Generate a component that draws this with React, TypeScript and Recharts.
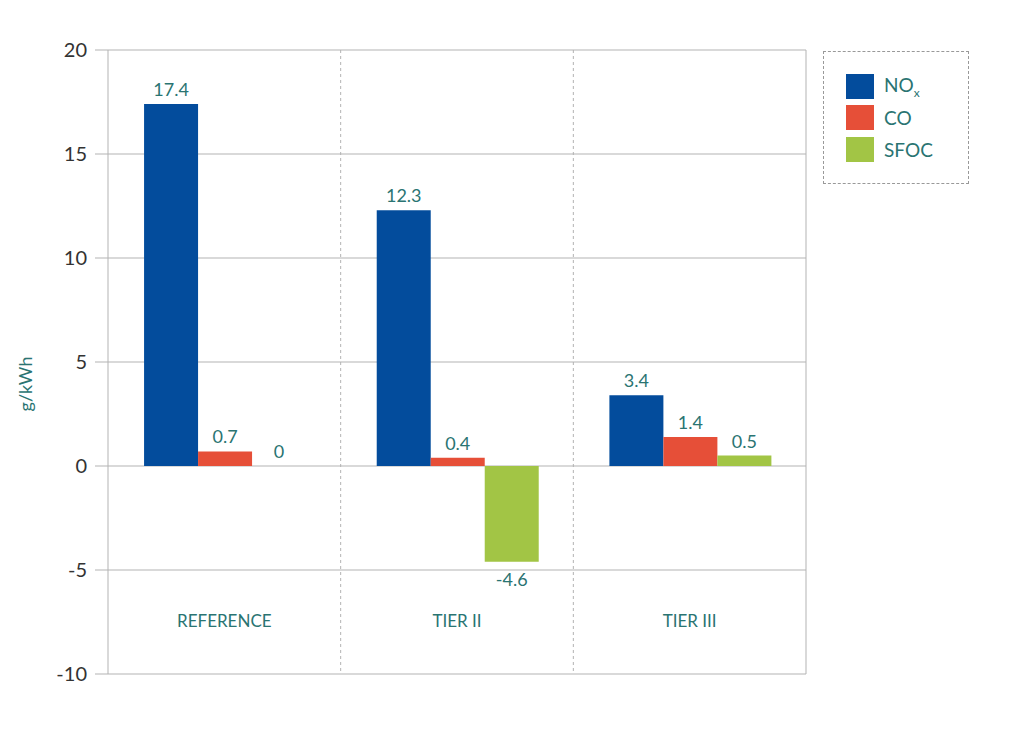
import React from "react";
import { BarChart, Bar, XAxis, YAxis, CartesianGrid, LabelList } from "recharts";

const categories = ["REFERENCE", "TIER II", "TIER III"];
const nox = [17.4, 12.3, 3.4];
const co = [0.7, 0.4, 1.4];
const sfoc = [0, -4.6, 0.5];
const yTicks = [-10, -5, 0, 5, 10, 15, 20];

const data = categories.map((name, i) => ({ name, nox: nox[i], co: co[i], sfoc: sfoc[i] }));

const TEAL = "#2a7472";
const GRID = "#b3b3b3";
const FONT = "Lato, 'Open Sans', sans-serif";

const ValueLabel = (props: any) => {
  const { x, y, width, height, value } = props;
  const top = Math.min(y, y + height);
  const bottom = Math.max(y, y + height);
  const ty = value < 0 ? bottom + 24 : top - 8;
  return (
    <text x={x + width / 2} y={ty} textAnchor="middle" fill={TEAL} fontSize={18} fontFamily={FONT}>
      {value}
    </text>
  );
};

const CatTick = (props: any) => {
  const { x, y, payload } = props;
  return (
    <text x={x} y={y - 55} textAnchor="middle" fill={TEAL} fontSize={17} fontFamily={FONT}>
      {payload.value}
    </text>
  );
};

const AxisTitle = () => (
  <text x={32} y={384} transform="rotate(-90 32 384)" textAnchor="middle" fill={TEAL} fontSize={18} fontFamily={FONT}>
    g/kWh
  </text>
);

const legendItems = [
  { label: "NO", sub: "x", color: "#034c9c" },
  { label: "CO", sub: "", color: "#e64f38" },
  { label: "SFOC", sub: "", color: "#a2c545" },
];

export default function App() {
  return (
    <div style={{ position: "absolute", left: 0, top: 0, width: 1030, height: 730, background: "#fff" }}>
      <BarChart
        width={1030}
        height={730}
        data={data}
        margin={{ top: 50, right: 224, bottom: 0, left: 0 }}
        barCategoryGap="15.5%"
        barGap={0}
      >
        <CartesianGrid horizontal={true} vertical={true} stroke={GRID}
          verticalCoordinatesGenerator={({ offset }: any) => [offset.left + offset.width]} />
        <CartesianGrid horizontal={false} vertical={true} stroke={GRID} strokeDasharray="3 3"
          verticalCoordinatesGenerator={({ offset }: any) => [offset.left + offset.width / 3, offset.left + (2 * offset.width) / 3]} />
        <XAxis dataKey="name" axisLine={false} tickLine={false} tick={<CatTick />} height={56} />
        <YAxis
          domain={[-10, 20]}
          ticks={yTicks}
          width={108}
          tickSize={13}
          stroke={GRID}
          tick={{ fill: "#333", fontSize: 20, fontFamily: FONT }}
          tickMargin={8}
          label={<AxisTitle />}
        />
        <Bar dataKey="nox" fill="#034c9c" isAnimationActive={false}>
          <LabelList dataKey="nox" content={<ValueLabel />} />
        </Bar>
        <Bar dataKey="co" fill="#e64f38" isAnimationActive={false}>
          <LabelList dataKey="co" content={<ValueLabel />} />
        </Bar>
        <Bar dataKey="sfoc" fill="#a2c545" isAnimationActive={false}
          minPointSize={(v: any) => (v === 0 ? 0.01 : 0)}>
          <LabelList dataKey="sfoc" content={<ValueLabel />} />
        </Bar>
      </BarChart>
      <div style={{ position: "absolute", left: 823, top: 51, width: 146, height: 133, border: "1px dashed #999", boxSizing: "border-box", fontFamily: FONT, color: TEAL }}>
        {legendItems.map((it, i) => (
          <div key={it.label} style={{ position: "absolute", left: 22, top: 21 + i * 32, display: "flex", alignItems: "center" }}>
            <div style={{ width: 28, height: 25, background: it.color }} />
            <span style={{ marginLeft: 10, fontSize: 19 }}>
              {it.label}
              {it.sub && <sub style={{ fontSize: 12 }}>{it.sub}</sub>}
            </span>
          </div>
        ))}
      </div>
    </div>
  );
}
